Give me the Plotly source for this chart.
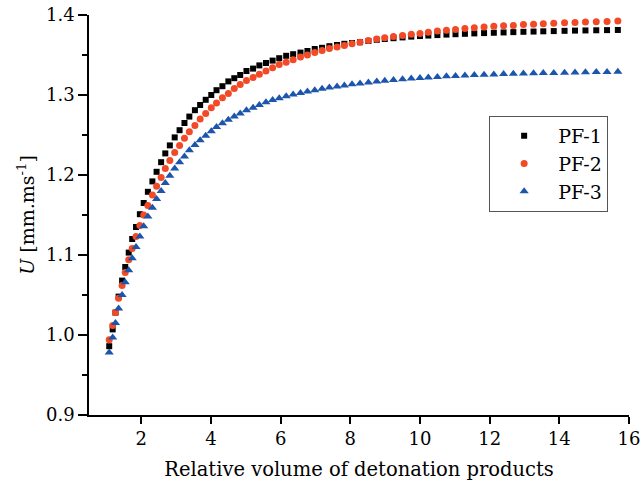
import plotly.graph_objects as go

# Relative volume of detonation products (shared x grid)
volume = [1.08, 1.18, 1.26, 1.35, 1.45, 1.54, 1.64, 1.74, 1.85, 1.96,
          2.07, 2.19, 2.32, 2.44, 2.57, 2.69, 2.82, 2.96, 3.10, 3.24,
          3.38, 3.54, 3.69, 3.85, 4.01, 4.16, 4.33, 4.50, 4.67, 4.84,
          5.02, 5.21, 5.39, 5.58, 5.77, 5.96, 6.16, 6.36, 6.57, 6.77,
          6.98, 7.19, 7.40, 7.62, 7.83, 8.05, 8.28, 8.52, 8.76, 8.99,
          9.24, 9.50, 9.75, 10.00, 10.24, 10.50, 10.76, 11.02, 11.29, 11.56,
          11.84, 12.12, 12.40, 12.68, 12.97, 13.26, 13.54, 13.84, 14.15, 14.45,
          14.75, 15.06, 15.37, 15.68]

pf1 = [0.986, 1.007, 1.028, 1.048, 1.068, 1.085, 1.103, 1.120, 1.135, 1.151,
       1.165, 1.179, 1.192, 1.204, 1.216, 1.227, 1.237, 1.247, 1.256, 1.265,
       1.273, 1.281, 1.2875, 1.294, 1.300, 1.306, 1.311, 1.317, 1.321, 1.325,
       1.330, 1.333, 1.337, 1.340, 1.343, 1.346, 1.349, 1.351, 1.353, 1.355,
       1.3575, 1.359, 1.361, 1.3625, 1.364, 1.365, 1.366, 1.3675, 1.369, 1.370,
       1.371, 1.372, 1.373, 1.3737, 1.3743, 1.3749, 1.3755, 1.376, 1.3765, 1.377,
       1.3774, 1.3778, 1.3782, 1.3786, 1.379, 1.3793, 1.3796, 1.3799, 1.3802, 1.3805,
       1.3807, 1.3809, 1.3811, 1.3813]

pf2 = [0.994, 1.012, 1.028, 1.046, 1.062, 1.078, 1.094, 1.108, 1.123, 1.137,
       1.150, 1.162, 1.175, 1.186, 1.197, 1.208, 1.218, 1.228, 1.237, 1.246,
       1.254, 1.262, 1.270, 1.277, 1.284, 1.290, 1.2965, 1.302, 1.308, 1.313,
       1.318, 1.322, 1.326, 1.330, 1.334, 1.338, 1.341, 1.344, 1.3475, 1.350,
       1.353, 1.3555, 1.358, 1.360, 1.362, 1.364, 1.366, 1.368, 1.370, 1.3715,
       1.373, 1.3745, 1.376, 1.377, 1.3785, 1.380, 1.381, 1.382, 1.383, 1.384,
       1.385, 1.386, 1.3865, 1.387, 1.388, 1.3885, 1.389, 1.3898, 1.3903, 1.3907,
       1.3913, 1.3916, 1.392, 1.3925]

pf3 = [0.978, 0.997, 1.015, 1.033, 1.050, 1.066, 1.081, 1.096, 1.110, 1.123,
       1.136, 1.148, 1.159, 1.170, 1.180, 1.190, 1.199, 1.208, 1.216, 1.223,
       1.231, 1.2375, 1.2434, 1.249, 1.2546, 1.260, 1.2646, 1.269, 1.273, 1.277,
       1.281, 1.284, 1.2875, 1.291, 1.2936, 1.296, 1.2985, 1.3006, 1.3025, 1.3044,
       1.306, 1.3078, 1.3093, 1.3106, 1.312, 1.3133, 1.3145, 1.3156, 1.3168, 1.3178,
       1.3188, 1.3196, 1.3205, 1.3213, 1.322, 1.3226, 1.3233, 1.3239, 1.3244, 1.3249,
       1.3254, 1.3257, 1.3261, 1.3265, 1.3269, 1.3271, 1.3274, 1.3276, 1.3279, 1.3281,
       1.3284, 1.3286, 1.3288, 1.329]

series_names = ["PF-1", "PF-2", "PF-3"]
x_ticks = [2, 4, 6, 8, 10, 12, 14, 16]
y_ticks = [0.9, 1.0, 1.1, 1.2, 1.3, 1.4]

FONT = "DejaVu Serif"

fig = go.Figure()
styles = [
    dict(symbol="square", color="#000000", size=6),
    dict(symbol="circle", color="#F24A26", size=7),
    dict(symbol="triangle-up", color="#1B55AC", size=8),
]
for name, yv, st in zip(series_names, [pf1, pf2, pf3], styles):
    fig.add_trace(go.Scatter(
        x=volume, y=yv, mode="markers", name=name,
        marker=dict(symbol=st["symbol"], color=st["color"], size=st["size"],
                    line=dict(width=0)),
    ))

axis_common = dict(
    showline=True, linecolor="black", linewidth=1.5,
    ticks="outside", tickcolor="black", tickwidth=1.5,
    showgrid=False, zeroline=False, mirror=False,
    tickfont=dict(family=FONT, size=18, color="black"),
    ticklabeloverflow="allow",
    automargin=False,
)

fig.update_xaxes(
    range=[0.5, 16], tickvals=x_ticks, ticklen=7,
    title=dict(text="Relative volume of detonation products",
               font=dict(family=FONT, size=19.5, color="black"), standoff=14),
    **axis_common,
)
fig.update_yaxes(
    range=[0.9, 1.4], tickvals=y_ticks, tickformat=".1f", ticklen=9,
    minor=dict(ticks="outside", ticklen=5, dtick=0.05, tick0=0.9,
               tickcolor="black", tickwidth=1.5),
    title=dict(text="<i>U</i> [mm.ms<sup>-1</sup>]",
               font=dict(family=FONT, size=19, color="black"), standoff=6),
    **axis_common,
)

fig.update_layout(
    width=643, height=488,
    margin=dict(l=89, r=14, t=15, b=73),
    paper_bgcolor="white", plot_bgcolor="white",
    showlegend=True,
    legend=dict(
        x=0.741, y=0.7475, xanchor="left", yanchor="top",
        bordercolor="#555555", borderwidth=1, bgcolor="white",
        font=dict(family=FONT, size=19, color="black"),
        itemwidth=58, tracegroupgap=0,
    ),
)

fig.write_html(
    "out.html",
    config={"displayModeBar": False},
    post_script="document.body.style.margin='0';document.body.style.overflow='hidden';",
)
